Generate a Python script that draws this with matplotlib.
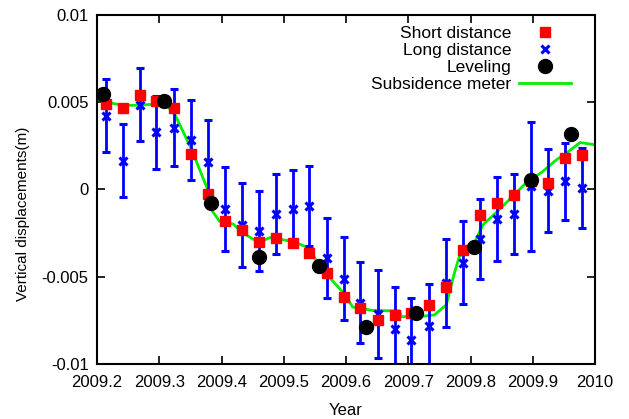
import matplotlib
matplotlib.use("Agg")
import matplotlib.pyplot as plt
from matplotlib.ticker import FixedLocator, FixedFormatter
from matplotlib.lines import Line2D

plt.rcParams['font.family'] = ['Liberation Sans', 'DejaVu Sans']

# Short distance (red squares)
short_t = [2009.214, 2009.241, 2009.269, 2009.295, 2009.324, 2009.351, 2009.378,
           2009.405, 2009.433, 2009.460, 2009.487, 2009.515, 2009.541, 2009.569,
           2009.596, 2009.623, 2009.651, 2009.678, 2009.705, 2009.733, 2009.760,
           2009.788, 2009.816, 2009.843, 2009.870, 2009.897, 2009.925, 2009.952,
           2009.979]
short_v = [0.00491, 0.00463, 0.00541, 0.00505, 0.00463, 0.00203, -0.00028,
           -0.00179, -0.00232, -0.00301, -0.00276, -0.00306, -0.00362, -0.00478,
           -0.00614, -0.00680, -0.00751, -0.00717, -0.00707, -0.00665, -0.00562,
           -0.00345, -0.00148, -0.00081, -0.00035, 0.00050, 0.00039, 0.00182,
           0.00194]

# Long distance (blue x with error bars)
long_t = short_t
long_v = [0.00421, 0.00165, 0.00484, 0.00327, 0.00352, 0.00282, 0.00156,
          -0.00114, -0.00205, -0.00240, -0.00140, -0.00110, -0.00095, -0.00392,
          -0.00511, -0.00648, -0.00713, -0.00799, -0.00864, -0.00780, -0.00536,
          -0.00419, -0.00284, -0.00169, -0.00142, 0.00018, -0.00007, 0.00045,
          0.00007]
long_err = [0.0021, 0.0021, 0.0021, 0.0021, 0.0022, 0.0023, 0.0024,
            0.0024, 0.0024, 0.0023, 0.0023, 0.0022, 0.0023, 0.0023,
            0.0024, 0.0023, 0.0025, 0.0024, 0.0024, 0.0024, 0.0025,
            0.0024, 0.0023, 0.0024, 0.0023, 0.0037, 0.0024, 0.0022,
            0.0023]

# Leveling (black circles)
lev_t = [2009.210, 2009.308, 2009.383, 2009.460, 2009.557, 2009.632, 2009.712,
         2009.806, 2009.897, 2009.962]
lev_v = [0.00543, 0.00507, -0.00076, -0.00389, -0.00438, -0.00788, -0.00709,
         -0.00328, 0.00052, 0.00314]

# Subsidence meter (green line)
sub_t = [2009.200, 2009.241, 2009.269, 2009.295, 2009.312, 2009.324, 2009.351,
         2009.378, 2009.383, 2009.397, 2009.419, 2009.433, 2009.460, 2009.478,
         2009.515, 2009.541, 2009.557, 2009.596, 2009.611, 2009.622, 2009.643,
         2009.686, 2009.689, 2009.718, 2009.742, 2009.761, 2009.774, 2009.782,
         2009.806, 2009.820, 2009.843, 2009.870, 2009.889, 2009.916, 2009.938,
         2009.954, 2009.976, 2010.000]
sub_v = [0.00513, 0.00480, 0.00482, 0.00488, 0.00478, 0.00436, 0.00236,
         -0.00003, -0.00113, -0.00184, -0.00199, -0.00247, -0.00305, -0.00276,
         -0.00299, -0.00337, -0.00438, -0.00594, -0.00675, -0.00680, -0.00694,
         -0.00696, -0.00729, -0.00729, -0.00719, -0.00662, -0.00480, -0.00385,
         -0.00308, -0.00203, -0.00127, -0.00032, 0.00036, 0.00102, 0.00169,
         0.00207, 0.00268, 0.00255]

x_ticks = [2009.2, 2009.3, 2009.4, 2009.5, 2009.6, 2009.7, 2009.8, 2009.9, 2010.0]
x_labels = ["2009.2", "2009.3", "2009.4", "2009.5", "2009.6", "2009.7", "2009.8", "2009.9", "2010"]
y_ticks = [-0.01, -0.005, 0.0, 0.005, 0.01]
y_labels = ["-0.01", "-0.005", "0", "0.005", "0.01"]

fig = plt.figure(figsize=(6.29, 4.19), dpi=100)
ax = fig.add_axes([0.1542, 0.1313, 0.7918, 0.8337])

ax.plot(sub_t, sub_v, color='#00ee00', lw=2.0, zorder=1)
ax.errorbar(long_t, long_v, yerr=long_err, fmt='x', color='#0000ff', ecolor='#0000ff',
            elinewidth=2.0, capsize=3, capthick=2.0, markersize=6, mew=2.2, zorder=2)
ax.plot(short_t, short_v, 's', color='#ff0000', markersize=7, zorder=3)
ax.plot(lev_t, lev_v, 'o', color='black', markersize=10, zorder=4)

ax.set_xlim(2009.2, 2010.0)
ax.set_ylim(-0.01, 0.01)
ax.xaxis.set_major_locator(FixedLocator(x_ticks))
ax.xaxis.set_major_formatter(FixedFormatter(x_labels))
ax.yaxis.set_major_locator(FixedLocator(y_ticks))
ax.yaxis.set_major_formatter(FixedFormatter(y_labels))
ax.tick_params(direction='in', length=6, width=1.2, top=True, right=True,
               labelsize=12, colors='black')
ax.tick_params(axis='x', pad=8)
ax.tick_params(axis='y', pad=6)
for s in ax.spines.values():
    s.set_linewidth(1.5)

ax.set_xlabel('Year', fontsize=12, labelpad=9)
ax.set_ylabel('Vertical displacements(m)', fontsize=11)
ax.yaxis.set_label_coords(-0.135, 0.43)

handles = [Line2D([], [], ls='none', marker='s', color='#ff0000', markersize=7),
           Line2D([], [], ls='none', marker='x', color='#0000ff', markersize=6, mew=2.2),
           Line2D([], [], ls='none', marker='o', color='black', markersize=10),
           Line2D([], [], color='#00ee00', lw=2.0)]
labels = ['Short distance', 'Long distance', 'Leveling', 'Subsidence meter']
ax.legend(handles, labels, loc='upper right', bbox_to_anchor=(0.975, 1.0),
          frameon=False, markerfirst=False, fontsize=12.5, handlelength=3.0,
          handletextpad=0.45, labelspacing=0.1, borderaxespad=0.26)

fig.savefig('out.png', dpi=100)
